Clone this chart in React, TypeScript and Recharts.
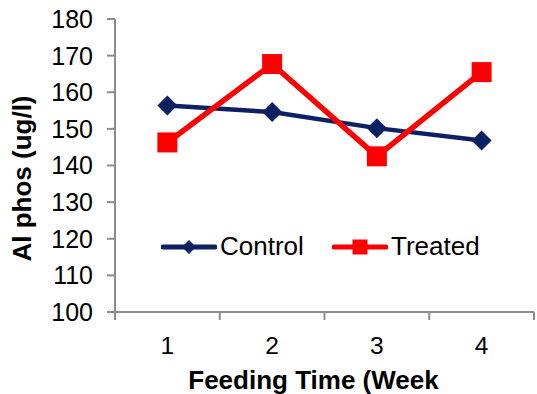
import React from "react";
import { LineChart, Line, XAxis, YAxis, Label } from "recharts";

const weeks = ["1", "2", "3", "4"];
const control = [156.4, 154.6, 150.2, 146.8];
const treated = [146.3, 167.7, 142.5, 165.5];
const yTicks = [100, 110, 120, 130, 140, 150, 160, 170, 180];

const NAVY = "#0b2163";
const RED = "#ff0000";
const AXIS = "#8c8c8c";
const FONT = "'Liberation Sans', Arial, sans-serif";

const data = weeks.map((week, i) => ({
  week,
  control: control[i],
  treated: treated[i],
}));

function Diamond({ cx, cy, r = 10, color }: { cx?: number; cy?: number; r?: number; color: string }) {
  if (cx == null || cy == null) return null;
  return (
    <polygon
      points={`${cx},${cy - r} ${cx + r},${cy} ${cx},${cy + r} ${cx - r},${cy}`}
      fill={color}
    />
  );
}

function Square({ cx, cy, r = 10, color }: { cx?: number; cy?: number; r?: number; color: string }) {
  if (cx == null || cy == null) return null;
  return <rect x={cx - r} y={cy - r} width={r * 2} height={r * 2} fill={color} />;
}

// category label at band centre, tick marks on the band edges
function WeekTick(props: any) {
  const { x, y, payload, index, visibleTicksCount } = props;
  const half = payload?.offset || 52.4;
  const axisY = y - 25;
  const last = index === (visibleTicksCount ?? weeks.length) - 1;
  return (
    <g>
      <line x1={x - half} x2={x - half} y1={axisY} y2={axisY + 8} stroke={AXIS} strokeWidth={2} />
      {last && (
        <line x1={x + half} x2={x + half} y1={axisY} y2={axisY + 8} stroke={AXIS} strokeWidth={2} />
      )}
      <text x={x} y={y} dy="0.71em" textAnchor="middle" fontSize={24.5} fill="#000" fontFamily={FONT}>
        {payload.value}
      </text>
    </g>
  );
}

function SeriesLegend() {
  const item = (name: string, color: string, marker: "diamond" | "square", width: number) => (
    <div style={{ display: "flex", alignItems: "center", width }}>
      <svg width={56} height={20} style={{ display: "block" }}>
        <line x1={2} x2={54} y1={10} y2={10} stroke={color} strokeWidth={5} strokeLinecap="round" />
        {marker === "diamond" ? (
          <Diamond cx={28} cy={10} r={7} color={color} />
        ) : (
          <Square cx={28} cy={10} r={7.5} color={color} />
        )}
      </svg>
      <span style={{ fontSize: 26, fontFamily: FONT, color: "#000", marginLeft: 3 }}>{name}</span>
    </div>
  );
  return (
    <div style={{ position: "absolute", left: 161, top: 231, display: "flex" }}>
      {item("Control", NAVY, "diamond", 171)}
      {item("Treated", RED, "square", 160)}
    </div>
  );
}

export default function App() {
  return (
    <div style={{ position: "absolute", left: 0, top: 0, width: 537, height: 394, background: "#fff" }}>
      <LineChart
        width={537}
        height={394}
        data={data}
        margin={{ top: 19, right: 3, bottom: 0, left: 0 }}
      >
        <XAxis
          dataKey="week"
          scale="band"
          height={82}
          axisLine={{ stroke: AXIS, strokeWidth: 2 }}
          tickLine={false}
          tickSize={8}
          tickMargin={17}
          tick={<WeekTick />}
          interval={0}
        >
          <Label
            content={({ viewBox }: any) => (
              <text
                x={viewBox.x + viewBox.width / 2 - 11}
                y={388.5}
                textAnchor="middle"
                fontSize={26}
                fontWeight="bold"
                fontFamily={FONT}
                fill="#000"
              >
                Feeding Time (Week
              </text>
            )}
          />
        </XAxis>
        <YAxis
          width={115}
          domain={[100, 180]}
          ticks={yTicks}
          interval={0}
          axisLine={{ stroke: AXIS, strokeWidth: 2 }}
          tickLine={{ stroke: AXIS, strokeWidth: 2 }}
          tickSize={8}
          tickMargin={14}
          tick={{ fontSize: 25, fill: "#000", fontFamily: FONT }}
        >
          <Label
            content={({ viewBox }: any) => {
              const cx = 31;
              const cy = viewBox.y + viewBox.height / 2 + 13;
              return (
                <text
                  x={cx}
                  y={cy}
                  transform={`rotate(-90, ${cx}, ${cy})`}
                  textAnchor="middle"
                  fontSize={26}
                  fontWeight="bold"
                  fontFamily={FONT}
                  fill="#000"
                >
                  Al phos (ug/l)
                </text>
              );
            }}
          />
        </YAxis>
        <Line
          dataKey="control"
          name="Control"
          stroke={NAVY}
          strokeWidth={4.5}
          dot={(p: any) => <Diamond key={`c-${p.index}`} cx={p.cx} cy={p.cy} color={NAVY} />}
          activeDot={false}
          isAnimationActive={false}
        />
        <Line
          dataKey="treated"
          name="Treated"
          stroke={RED}
          strokeWidth={5.5}
          dot={(p: any) => <Square key={`t-${p.index}`} cx={p.cx} cy={p.cy} color={RED} />}
          activeDot={false}
          isAnimationActive={false}
        />
      </LineChart>
      <SeriesLegend />
    </div>
  );
}
